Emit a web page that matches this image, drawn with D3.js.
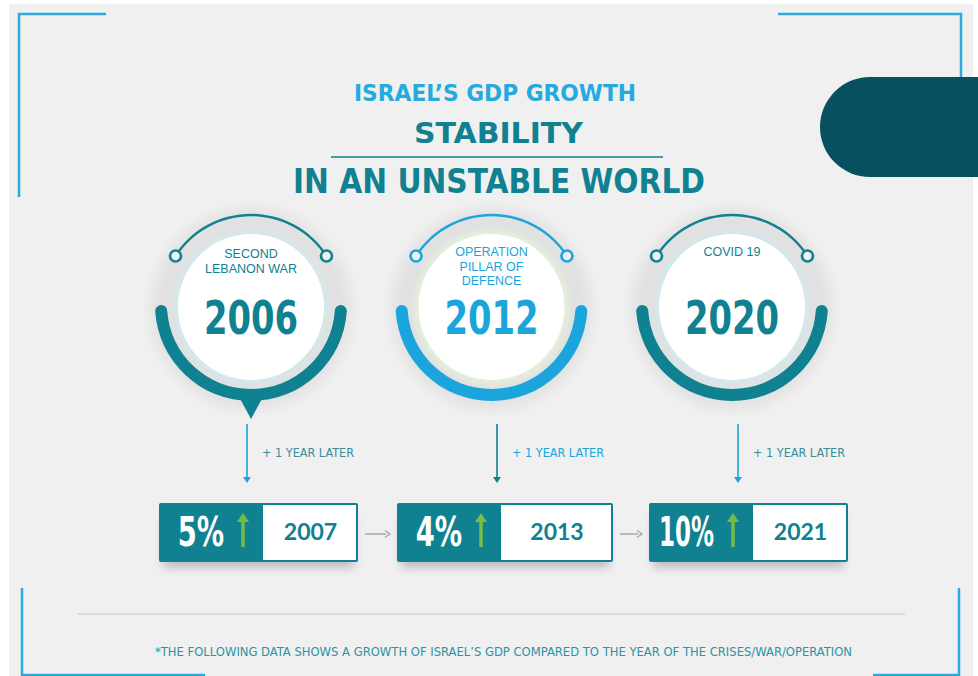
<!DOCTYPE html>
<html><head><meta charset="utf-8">
<script src="https://cdn.jsdelivr.net/npm/d3@7"></script>
<style>body{margin:0;background:#fff}svg{display:block}</style>
</head><body><svg id="c" width="978" height="676"></svg>
<script>
// ---- data ----
const titleTop = "ISRAEL\u2019S GDP GROWTH";
const titleMain = ["STABILITY", "IN AN UNSTABLE WORLD"];
const eventLabels = [["SECOND", "LEBANON WAR"], ["OPERATION", "PILLAR OF", "DEFENCE"], ["COVID 19"]];
const eventYears = ["2006", "2012", "2020"];
const growthPct = [5, 4, 10];
const laterYears = ["2007", "2013", "2021"];
const laterLabel = "+ 1 YEAR LATER";
const footnote = "*THE FOLLOWING DATA SHOWS A GROWTH OF ISRAEL\u2019S GDP COMPARED TO THE  YEAR OF THE CRISES/WAR/OPERATION";

// ---- style / layout ----
const TEAL = "#0f8190", BLUE = "#1ca5dc", DARK = "#07505f", BG = "#f0f0f0", GREEN = "#76bd43";
const ringColor = [TEAL, BLUE, TEAL];
const paleColor = ["#d6e7ea", "#e3eedb", "#d6e7ea"];
const arrowColor = [BLUE, TEAL, BLUE];
const laterColor = ["#3a8d9b", BLUE, "#3a8d9b"];
const pointer = [true, false, false];
const COND = "'DejaVu Sans Condensed','Liberation Sans Narrow',sans-serif";

const svg = d3.select("#c");
const defs = svg.append("defs");
defs.append("filter").attr("id", "halo").attr("x", "-50%").attr("y", "-50%").attr("width", "200%").attr("height", "200%")
  .append("feGaussianBlur").attr("stdDeviation", 7);
defs.append("filter").attr("id", "soft").attr("x", "-50%").attr("y", "-50%").attr("width", "200%").attr("height", "200%")
  .append("feGaussianBlur").attr("stdDeviation", 2);
defs.append("filter").attr("id", "bshadow").attr("x", "-30%").attr("y", "-50%").attr("width", "160%").attr("height", "200%")
  .append("feGaussianBlur").attr("stdDeviation", 5);

// background panel
svg.append("rect").attr("x", 9).attr("y", 4).attr("width", 964).attr("height", 672).attr("fill", BG);

// corner brackets
const br = svg.append("g").attr("fill", "none").attr("stroke", "#29abe2").attr("stroke-width", 2.5);
br.append("path").attr("d", "M19,197V14H106");
br.append("path").attr("d", "M778,14H961V80");
br.append("path").attr("d", "M22,588V675H205");
br.append("path").attr("d", "M873,675H959V588");

// pill
svg.append("path").attr("d", "M870,77H978V177H870A50,50 0 0 1 870,77Z").attr("fill", DARK);

// titles
function fitText(sel, w) {
  return sel.attr("textLength", w).attr("lengthAdjust", "spacingAndGlyphs");
}
function squeeze(sel, k, maxW) {
  return sel.each(function () {
    const n = this.getComputedTextLength();
    d3.select(this).attr("textLength", Math.min(n * k, maxW || 1e9)).attr("lengthAdjust", "spacingAndGlyphs");
  });
}
fitText(svg.append("text").attr("x", 495).attr("y", 101).attr("text-anchor", "middle")
  .attr("font-family", COND).attr("font-weight", "bold").attr("font-size", 23).attr("fill", "#25a9df").text(titleTop), 282);
fitText(svg.append("text").attr("x", 498.5).attr("y", 143).attr("text-anchor", "middle")
  .attr("font-family", COND).attr("font-weight", "bold").attr("font-size", 29).attr("fill", TEAL).text(titleMain[0]), 169);
svg.append("line").attr("x1", 331).attr("x2", 663).attr("y1", 157).attr("y2", 157).attr("stroke", TEAL).attr("stroke-width", 1.5);
fitText(svg.append("text").attr("x", 499).attr("y", 193).attr("text-anchor", "middle")
  .attr("font-family", COND).attr("font-weight", "bold").attr("font-size", 33).attr("fill", TEAL).text(titleMain[1]), 412);

// circles
const x = d3.scalePoint().domain(eventYears).range([251, 732]);
const CY = 305, R = 90;
const arcThick = d3.arc().innerRadius(R - 6).outerRadius(R + 6).startAngle(Math.PI / 2).endAngle(Math.PI * 1.5).cornerRadius(6);
const theta = 33 * Math.PI / 180;

const g = svg.selectAll("g.ev").data(eventYears).join("g").attr("class", "ev")
  .attr("transform", d => `translate(${x(d)},${CY})`);
g.append("circle").attr("r", 100).attr("cy", 4).attr("fill", "#000").attr("opacity", 0.06).attr("filter", "url(#halo)");
g.append("circle").attr("r", 78).attr("cy", 2).attr("fill", (d, i) => paleColor[i]).attr("filter", "url(#soft)");
g.append("circle").attr("r", 73).attr("cy", 2).attr("fill", "#fff");
g.append("path").attr("d", arcThick).attr("fill", (d, i) => ringColor[i]);
g.filter((d, i) => pointer[i]).append("path").attr("d", `M-14,${R - 2}L14,${R - 2}L0,${R + 24}Z`).attr("fill", TEAL);
const arcThin = d3.arc().innerRadius(R - 1.2).outerRadius(R + 1.2).startAngle(-Math.PI / 2 + theta).endAngle(Math.PI / 2 - theta);
g.append("path").attr("d", arcThin).attr("fill", (d, i) => ringColor[i]);
[-1, 1].forEach(s => {
  g.append("circle").attr("cx", s * R * Math.cos(theta)).attr("cy", -R * Math.sin(theta)).attr("r", 5.5)
    .attr("fill", BG).attr("stroke", (d, i) => ringColor[i]).attr("stroke-width", 2.6);
});
g.each(function (d, i) {
  const gg = d3.select(this);
  eventLabels[i].forEach((t, k) => {
    gg.append("text").attr("y", (eventLabels[i].length === 2 ? -51 : -53) + k * 14.5).attr("dy", "0.35em").attr("text-anchor", "middle")
      .attr("font-family", "'Liberation Sans',Arial,sans-serif").attr("font-size", 12.5).attr("fill", ringColor[i]).text(t);
  });
});
squeeze(g.append("text").attr("y", 29).attr("text-anchor", "middle").attr("font-family", COND).attr("font-weight", "bold")
  .attr("font-size", 47).attr("fill", (d, i) => ringColor[i]).text(d => d), 0.8);

// down arrows
const ax = d3.scaleOrdinal().domain(laterYears).range([247, 497, 738]);
const arr = svg.selectAll("g.arr").data(laterYears).join("g").attr("class", "arr").attr("transform", d => `translate(${ax(d)},0)`);
arr.append("line").attr("y1", 424).attr("y2", 479).attr("stroke", (d, i) => arrowColor[i]).attr("stroke-width", 1.6);
arr.append("path").attr("d", "M-4,477L4,477L0,483Z").attr("fill", (d, i) => arrowColor[i]);
fitText(arr.append("text").attr("x", 15).attr("y", 453).attr("dy", "0.35em").attr("font-family", COND).attr("font-size", 12.5)
  .attr("fill", (d, i) => laterColor[i]).text(laterLabel), 92);

// boxes
const bx = d3.scaleOrdinal().domain(laterYears).range([159, 397, 649]);
const whiteW = [95, 112, 95];
const BT = 503, BH = 59, TW = 104;
const box = svg.selectAll("g.box").data(laterYears).join("g").attr("class", "box").attr("transform", d => `translate(${bx(d)},${BT})`);
box.append("rect").attr("x", 4).attr("y", 10).attr("width", (d, i) => TW + whiteW[i] - 8).attr("height", BH - 4)
  .attr("fill", "#000").attr("opacity", 0.2).attr("filter", "url(#bshadow)");
box.append("rect").attr("width", (d, i) => TW + whiteW[i]).attr("height", BH).attr("rx", 2).attr("fill", TEAL);
box.append("rect").attr("x", TW).attr("y", 2).attr("width", (d, i) => whiteW[i] - 2).attr("height", BH - 4).attr("fill", "#fff");
squeeze(box.append("text").attr("x", 65).attr("y", 43).attr("text-anchor", "end").attr("font-family", COND).attr("font-weight", "bold")
  .attr("font-size", 41).attr("fill", "#fff").text((d, i) => growthPct[i] + "%"), 0.74, 55);
box.append("line").attr("x1", 84).attr("x2", 84).attr("y1", 44).attr("y2", 17).attr("stroke", GREEN).attr("stroke-width", 3.5);
box.append("path").attr("d", "M78,19L90,19L84,10Z").attr("fill", GREEN);
box.append("text").attr("x", (d, i) => TW + whiteW[i] / 2).attr("y", 37).attr("text-anchor", "middle")
  .attr("font-family", "Lato,'Open Sans',sans-serif").attr("font-weight", "bold").attr("font-size", 23).attr("fill", TEAL).text(d => d);

// connectors between boxes
for (let i = 0; i < laterYears.length - 1; i++) {
  const x1 = bx(laterYears[i]) + TW + whiteW[i] + 7, x2 = bx(laterYears[i + 1]) - 7;
  svg.append("line").attr("x1", x1).attr("x2", x2 - 4).attr("y1", 534).attr("y2", 534).attr("stroke", "#a9a9a9").attr("stroke-width", 1.5);
  svg.append("path").attr("d", `M${x2 - 5},530.5L${x2},534L${x2 - 5},537.5`).attr("fill", "none").attr("stroke", "#a9a9a9").attr("stroke-width", 1.5);
}

// separator and footnote
svg.append("line").attr("x1", 78).attr("x2", 905).attr("y1", 614).attr("y2", 614).attr("stroke", "#dcdcdc").attr("stroke-width", 2);
fitText(svg.append("text").attr("x", 503.5).attr("y", 652).attr("dy", "0.35em").attr("text-anchor", "middle")
  .attr("font-family", COND).attr("font-size", 12).attr("fill", "#2b93a5").text(footnote), 697);
</script></body></html>
